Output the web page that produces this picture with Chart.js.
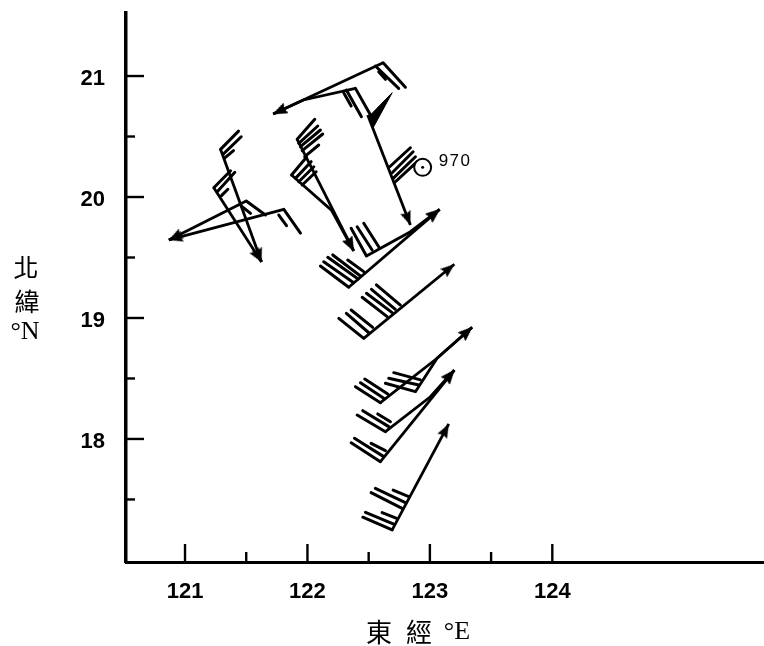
<!DOCTYPE html>
<html>
<head>
<meta charset="utf-8">
<title>Wind barbs</title>
<script src="https://cdn.jsdelivr.net/npm/chart.js@4"></script>
<style>
    html, body { margin: 0; padding: 0; background: #fff; }
    canvas { display: block; }
</style>
</head>
<body>
<canvas id="barbs-chart" width="764" height="646"></canvas>
<script>
// ---- DATA (longitude, latitude) ----

const lonTicks = [121, 122, 123, 124];
const lonMinorTicks = [121.5, 122.5, 123.5];
const latTicks = [18, 19, 20, 21];
const latMinorTicks = [17.5, 18.5, 19.5, 20.5];

// Arrow shafts, tail first, tip last
const shafts = [
    [[121.290, 20.394], [121.625, 19.463]],
    [[121.235, 20.077], [121.625, 19.463]],
    [[121.807, 19.898], [120.868, 19.645]],
    [[121.500, 19.967], [120.868, 19.645]],
    [[122.618, 21.110], [121.720, 20.686]],
    [[122.392, 20.898], [121.967, 20.802], [121.720, 20.686]],
    [[122.492, 20.678], [122.841, 19.768]],
    [[121.916, 20.477], [122.378, 19.554]],
    [[121.870, 20.182], [122.196, 19.892], [122.378, 19.554]],
    [[122.482, 19.512], [122.841, 19.713], [123.080, 19.898]],
    [[122.337, 19.254], [123.080, 19.898]],
    [[122.460, 18.832], [123.200, 19.444]],
    [[122.596, 18.300], [123.059, 18.667], [123.345, 18.923]],
    [[122.882, 18.391], [123.059, 18.667], [123.345, 18.923]],
    [[122.637, 18.060], [123.004, 18.349], [123.200, 18.570]],
    [[122.596, 17.812], [123.200, 18.570]],
    [[122.692, 17.248], [123.154, 18.124]]
];

// Barb feathers: lon1, lat1, lon2, lat2
const barbsWest = [
    [121.290, 20.394, 121.437, 20.545],
    [121.312, 20.355, 121.459, 20.498],
    [121.323, 20.322, 121.396, 20.383],
    [121.235, 20.077, 121.372, 20.217],
    [121.263, 20.044, 121.407, 20.204],
    [121.298, 20.011, 121.350, 20.064],
    [121.807, 19.898, 121.943, 19.702],
    [121.766, 19.851, 121.829, 19.763],
    [121.500, 19.967, 121.657, 19.851],
    [121.459, 19.926, 121.535, 19.865]
];
const barbsNorth = [
    [122.618, 21.110, 122.800, 20.907],
    [122.555, 21.083, 122.745, 20.898],
    [122.582, 21.035, 122.637, 20.973],
    [122.392, 20.898, 122.523, 20.664],
    [122.318, 20.884, 122.441, 20.664],
    [122.296, 20.862, 122.357, 20.752],
    [122.672, 20.250, 122.841, 20.407],
    [122.692, 20.201, 122.863, 20.374],
    [122.700, 20.154, 122.882, 20.333],
    [122.710, 20.118, 122.896, 20.292]
];
const barbsCentre = [
    [121.916, 20.477, 122.060, 20.642],
    [121.929, 20.444, 122.084, 20.587],
    [121.943, 20.416, 122.106, 20.554],
    [121.957, 20.383, 122.125, 20.521],
    [121.978, 20.333, 122.092, 20.430],
    [121.870, 20.182, 121.992, 20.328],
    [121.902, 20.154, 122.030, 20.292],
    [121.929, 20.126, 122.052, 20.250],
    [121.957, 20.099, 122.071, 20.209]
];
const barbsMiddle = [
    [122.482, 19.512, 122.357, 19.741],
    [122.528, 19.562, 122.406, 19.754],
    [122.582, 19.589, 122.460, 19.783],
    [122.337, 19.254, 122.106, 19.430],
    [122.378, 19.292, 122.133, 19.465],
    [122.414, 19.322, 122.166, 19.502],
    [122.433, 19.347, 122.207, 19.521],
    [122.460, 19.383, 122.329, 19.479],
    [122.460, 18.832, 122.256, 18.997],
    [122.501, 18.878, 122.318, 19.039],
    [122.533, 18.923, 122.357, 19.066],
    [122.651, 19.011, 122.447, 19.171],
    [122.692, 19.044, 122.482, 19.204],
    [122.718, 19.072, 122.523, 19.237],
    [122.759, 19.107, 122.563, 19.273]
];
const barbsSouth = [
    [122.596, 18.300, 122.392, 18.432],
    [122.623, 18.336, 122.433, 18.465],
    [122.656, 18.372, 122.468, 18.496],
    [122.882, 18.391, 122.637, 18.460],
    [122.909, 18.446, 122.664, 18.502],
    [122.923, 18.488, 122.705, 18.548],
    [122.637, 18.060, 122.406, 18.198],
    [122.664, 18.102, 122.452, 18.234],
    [122.678, 18.143, 122.574, 18.207],
    [122.596, 17.812, 122.357, 17.969],
    [122.623, 17.854, 122.384, 18.006],
    [122.637, 17.903, 122.520, 17.964],
    [122.692, 17.248, 122.452, 17.353],
    [122.705, 17.297, 122.474, 17.394],
    [122.724, 17.345, 122.610, 17.391],
    [122.773, 17.427, 122.520, 17.556],
    [122.800, 17.473, 122.555, 17.592],
    [122.827, 17.523, 122.700, 17.578]
];

const pennant = [[122.692, 20.862], [122.501, 20.664], [122.541, 20.581], [122.692, 20.862]];
const stationPoint = [122.941, 20.245];
const stationLabel = '970';

// ---- HELPERS ----

const toXY = ([x, y]) => ({ x, y });

// Long thin arrow head, its tip sits at the centre of the canvas
function makeArrowHead() {
    const c = document.createElement('canvas');
    c.width = 11;
    c.height = 30;
    const g = c.getContext('2d');
    g.fillStyle = '#000';
    g.beginPath();
    g.moveTo(5.5, 15);
    g.lineTo(11, 29);
    g.lineTo(5.5, 27);
    g.lineTo(0, 29);
    g.closePath();
    g.fill();
    return c;
}
const arrowHead = makeArrowHead();

function shaftDataset(points) {
    const last = points[points.length - 1];
    const prev = points[points.length - 2];
    return {
        data: points.map(toXY),
        showLine: true,
        borderColor: '#000',
        borderWidth: 2.8,
        pointStyle: arrowHead,
        pointRadius: points.map((p, i) => i === points.length - 1 ? 6 : 0),
        pointRotation: Math.atan2(last[0] - prev[0], last[1] - prev[1]) * 180 / Math.PI
    };
}

function barbDataset(b) {
    return {
        data: [{ x: b[0], y: b[1] }, { x: b[2], y: b[3] }],
        showLine: true,
        borderColor: '#000',
        borderWidth: 3,
        borderCapStyle: 'round',
        pointRadius: 0
    };
}

// ---- PLUGINS ----

// Inward tick marks, long on whole degrees, short on half degrees
const inwardTicks = {
    id: 'inwardTicks',
    afterDraw(chart) {
        const { ctx, scales: { x, y } } = chart;
        const bottom = y.bottom;
        const left = x.left;
        ctx.save();
        ctx.strokeStyle = '#000';
        ctx.lineWidth = 2.4;
        const mark = (x1, y1, x2, y2) => {
            ctx.beginPath();
            ctx.moveTo(x1, y1);
            ctx.lineTo(x2, y2);
            ctx.stroke();
        };
        lonTicks.forEach(v => mark(x.getPixelForValue(v), bottom, x.getPixelForValue(v), bottom - 18));
        lonMinorTicks.forEach(v => mark(x.getPixelForValue(v), bottom, x.getPixelForValue(v), bottom - 10));
        latTicks.forEach(v => mark(left, y.getPixelForValue(v), left + 18, y.getPixelForValue(v)));
        latMinorTicks.forEach(v => mark(left, y.getPixelForValue(v), left + 9, y.getPixelForValue(v)));
        ctx.restore();
    }
};

// Axis captions and the pressure label
const captions = {
    id: 'captions',
    afterDraw(chart) {
        const { ctx, scales: { x, y } } = chart;
        ctx.save();
        ctx.fillStyle = '#000';
        ctx.textAlign = 'center';
        ctx.textBaseline = 'middle';

        ctx.font = '25px "Noto Sans CJK TC"';
        ctx.fillText('北', 26, 267);
        ctx.fillText('緯', 27, 301);
        ctx.font = '26px "Noto Sans CJK TC"';
        ctx.fillText('東', 379, 632);
        ctx.fillText('經', 419, 632);
        ctx.font = '26px "Liberation Serif"';
        ctx.fillText('°N', 25, 332);
        ctx.fillText('°E', 457, 632);

        ctx.font = '17px "Liberation Sans"';
        ctx.textAlign = 'left';
        ctx.letterSpacing = '1.5px';
        ctx.fillText(stationLabel, x.getPixelForValue(stationPoint[0]) + 16, y.getPixelForValue(stationPoint[1]) - 6);
        ctx.restore();
    }
};

// ---- CHART ----

const datasets = [
    // first dataset ends up on top, so the centre dot goes before the ring
    {
        data: [toXY(stationPoint)],
        pointStyle: 'circle',
        pointRadius: 1.5,
        pointBorderWidth: 0,
        pointBackgroundColor: '#000'
    },
    {
        data: [toXY(stationPoint)],
        pointStyle: 'circle',
        pointRadius: 8.5,
        pointBorderWidth: 2,
        pointBorderColor: '#000',
        pointBackgroundColor: '#fff'
    },
    ...shafts.map(shaftDataset),
    ...[...barbsWest, ...barbsNorth, ...barbsCentre, ...barbsMiddle, ...barbsSouth].map(barbDataset),
    {
        data: pennant.map(toXY),
        showLine: true,
        borderColor: '#000',
        borderWidth: 1,
        backgroundColor: '#000',
        fill: 'shape',
        pointRadius: 0
    }
];

const tickFont = { family: '"Liberation Sans"', size: 22, weight: 'bold' };

// The axes keep fixed sizes, no extra room for the end labels
function clearPadding(s) {
    s.paddingLeft = 0;
    s.paddingRight = 0;
    s.paddingTop = 0;
    s.paddingBottom = 0;
}

new Chart(document.getElementById('barbs-chart'), {
    type: 'scatter',
    data: { datasets },
    options: {
        responsive: false,
        animation: false,
        layout: { autoPadding: false, padding: { top: 13, right: 0, left: 0, bottom: 0 } },
        plugins: {
            legend: { display: false },
            tooltip: { enabled: false }
        },
        scales: {
            x: {
                type: 'linear',
                min: 120.518,
                max: 125.729,
                afterBuildTicks: s => { s.ticks = lonTicks.map(value => ({ value })); },
                afterFit: s => { s.height = 84; clearPadding(s); },
                grid: { display: false },
                border: { display: true, color: '#000', width: 3 },
                ticks: {
                    color: '#000',
                    font: tickFont,
                    padding: 9,
                    maxRotation: 0,
                    autoSkip: false,
                    callback: v => String(v)
                }
            },
            y: {
                type: 'linear',
                min: 16.983,
                max: 21.521,
                afterBuildTicks: s => { s.ticks = latTicks.map(value => ({ value })); },
                afterFit: s => { s.width = 126; clearPadding(s); },
                grid: { display: false },
                border: { display: true, color: '#000', width: 3.5 },
                ticks: {
                    color: '#000',
                    font: tickFont,
                    padding: 13,
                    labelOffset: 3,
                    autoSkip: false,
                    callback: v => String(v)
                }
            }
        }
    },
    plugins: [inwardTicks, captions]
});
</script>
</body>
</html>
